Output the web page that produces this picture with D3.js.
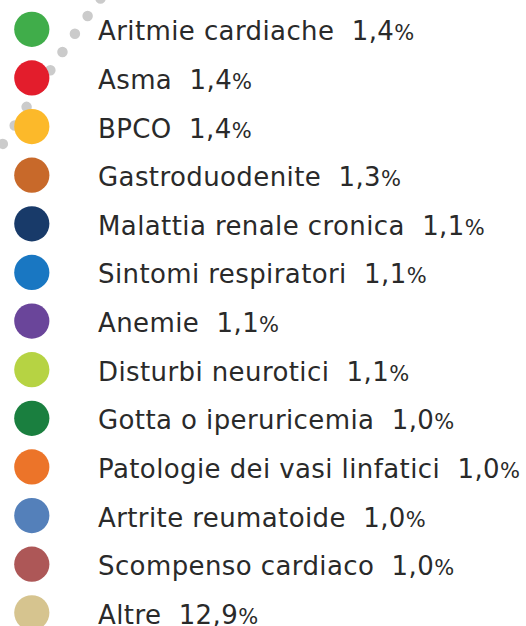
<!DOCTYPE html>
<html>
<head>
<meta charset="utf-8">
<script src="https://cdn.jsdelivr.net/npm/d3@7"></script>
<style>
  html, body { margin: 0; padding: 0; background: #fff; }
  svg { display: block; }
</style>
</head>
<body>
<svg id="legend"></svg>
<script>
const categories = [
  "Aritmie cardiache", "Asma", "BPCO", "Gastroduodenite",
  "Malattia renale cronica", "Sintomi respiratori", "Anemie",
  "Disturbi neurotici", "Gotta o iperuricemia",
  "Patologie dei vasi linfatici", "Artrite reumatoide",
  "Scompenso cardiaco", "Altre"
];
const values = [1.4, 1.4, 1.4, 1.3, 1.1, 1.1, 1.1, 1.1, 1.0, 1.0, 1.0, 1.0, 12.9];
const colors = [
  "#40ad4a", "#e31d2c", "#fcb92a", "#c8692a", "#183a69", "#1977c2",
  "#6a459a", "#b6d343", "#1a7f3f", "#ec7429", "#5480ba", "#ad5757", "#d6c48f"
];

const width = 526, height = 626;
const svg = d3.select("#legend").attr("width", width).attr("height", height);

const y = d3.scalePoint().domain(categories).range([29.3, 612.8]);
const fmt = v => d3.format(".1f")(v).replace(".", ",");

// dotted grey arc left over from the donut ring
svg.append("path")
  .attr("d", d3.line().curve(d3.curveNatural)([[100.5, -1.5], [62, 52.7], [1.5, 146]]))
  .attr("fill", "none")
  .attr("stroke", "#cbcbcb")
  .attr("stroke-width", 10.5)
  .attr("stroke-linecap", "round")
  .attr("stroke-dasharray", "0 21.9");

const rows = svg.selectAll("g.row")
  .data(categories)
  .join("g")
  .attr("class", "row")
  .attr("transform", d => `translate(0,${y(d)})`);

rows.append("circle")
  .attr("cx", 31.8)
  .attr("r", 17.6)
  .attr("fill", (d, i) => colors[i]);

const label = rows.append("text")
  .attr("x", 98)
  .attr("y", 11)
  .attr("fill", "#2a2a2a")
  .style("font-family", "'DejaVu Sans', sans-serif")
  .style("font-size", "26px")
  .style("letter-spacing", "0.4px");

label.append("tspan").text(d => d + "\u00a0\u00a0");
label.append("tspan").text((d, i) => fmt(values[i]));
label.append("tspan").style("font-size", "21px").text("%");
</script>
</body>
</html>
